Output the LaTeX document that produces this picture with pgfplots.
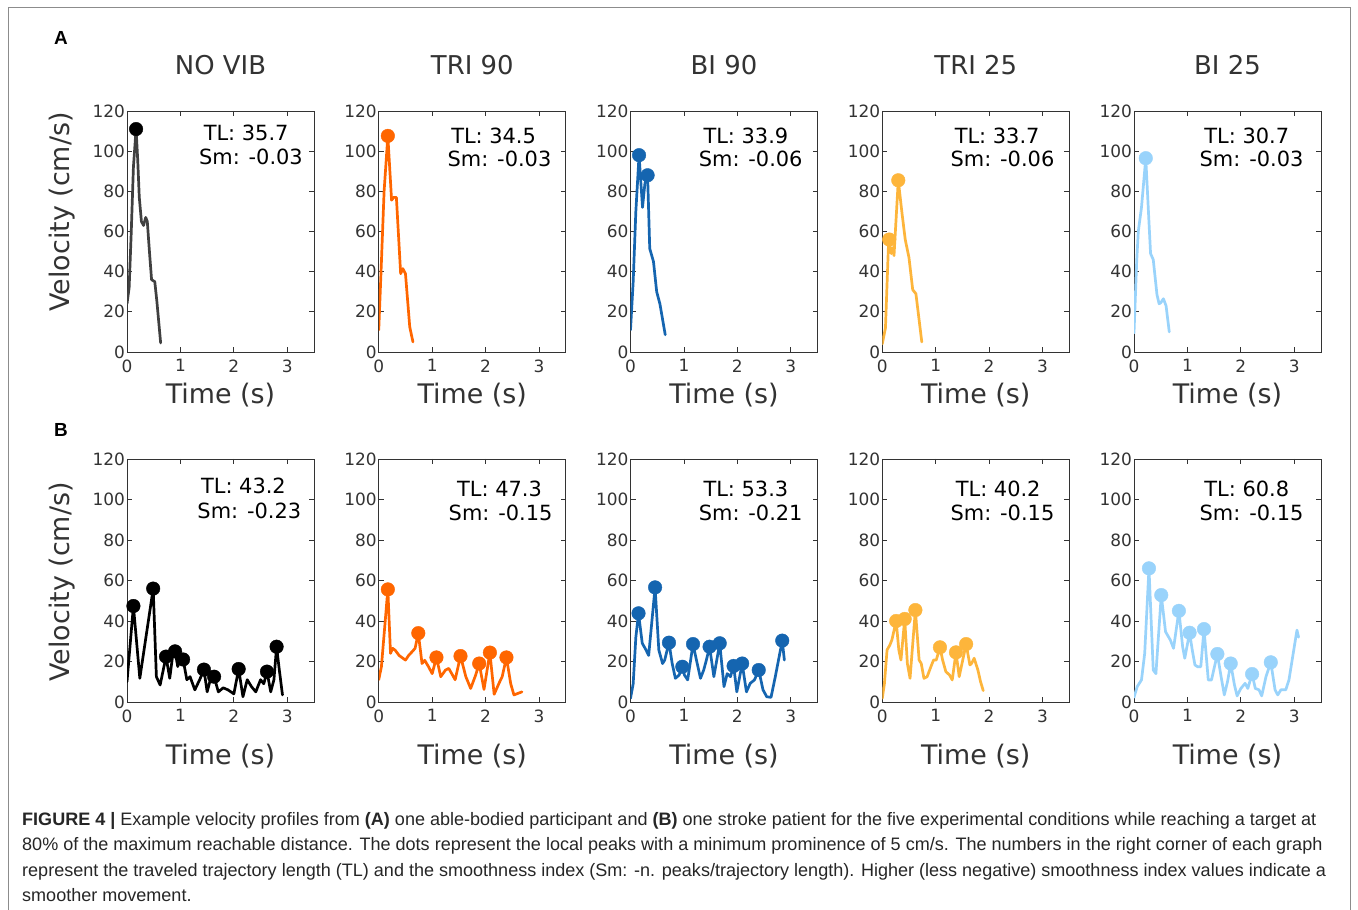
\documentclass[border=0pt]{standalone}
\usepackage{pgfplots}
\pgfplotsset{compat=1.18}
\usepackage{fontspec}
\setmainfont{DejaVu Sans}
\newfontfamily\capfont{Liberation Sans}
\definecolor{cA}{HTML}{404040}
\definecolor{cOr}{HTML}{FF6600}
\definecolor{cBl}{HTML}{1565B0}
\definecolor{cYe}{HTML}{FDB53B}
\definecolor{cLb}{HTML}{99D3FB}
\definecolor{axgray}{HTML}{333333}
\pgfplotsset{
 panel/.style={scale only axis, width=187bp, anchor=south west,
  xmin=0, xmax=3.5, ymin=0, ymax=120,
  xtick={0,1,2,3}, ytick={0,20,40,60,80,100,120},
  tick align=inside, major tick length=5bp,
  axis line style={axgray, line width=0.8bp},
  every tick/.style={axgray, line width=0.8bp},
  ticklabel style={font=\fontsize{17}{17}\selectfont, text=axgray},
  xticklabel style={yshift=-4bp},
  yticklabel style={xshift=1.5bp},
  /pgf/number format/assume math mode=true,
  xlabel={Time (s)},
  xlabel style={font=\fontsize{27}{27}\selectfont, text=axgray, anchor=center},
  title style={font=\fontsize{26}{26}\selectfont, text=axgray, anchor=center, at={(axis description cs:0.5,1.166)}},
  ylabel style={font=\fontsize{27}{27}\selectfont, text=axgray, anchor=center},
 },
 rowA/.style={height=241bp, xlabel style={at={(axis description cs:0.5,-0.1784)}}},
 rowB/.style={height=243bp, xlabel style={at={(axis description cs:0.5,-0.2222)}}},
 vline/.style={line width=2.7bp, line join=round, line cap=round, mark=none},
 peaks/.style={only marks, mark=*, mark size=6.8bp},
}
\tikzset{annot/.style={font=\fontsize{21}{21}\selectfont, text=black, anchor=center, inner sep=0pt}}
\newcommand{\ann}[6]{\node[annot] at (axis cs:#3,#5) {#1}; \node[annot] at (axis cs:#4,#6) {#2};}
\begin{document}
\begin{tikzpicture}
\path[use as bounding box, fill=white] (0bp,0bp) rectangle (1358bp,910bp);
\draw[black!45, line width=1bp] (8bp,0bp) -- (8bp,902bp) -- (1350bp,902bp) -- (1350bp,0bp);
\node[font=\capfont\bfseries\fontsize{19}{19}\selectfont] at (61bp,872bp) {A};
\node[font=\capfont\bfseries\fontsize{19}{19}\selectfont] at (61bp,480bp) {B};

% ---------------- Row A ----------------
\begin{axis}[panel, rowA, at={(127bp,558bp)}, title={NO VIB}, ylabel={Velocity (cm/s)},
  ylabel style={at={(axis description cs:-0.3476,0.581)}}]
\addplot[vline, cA] coordinates {(0,24) (0.04,32) (0.08,60) (0.12,92) (0.17,111) (0.2,96) (0.23,77) (0.27,65) (0.31,63) (0.35,67) (0.38,65) (0.42,50) (0.46,36) (0.52,35) (0.56,25) (0.63,4.5)};
\addplot[peaks, black] coordinates {(0.17,111)};
\ann{TL: 35.7}{Sm: -0.03}{2.23}{2.32}{109}{97.1}
\end{axis}

\begin{axis}[panel, rowA, at={(378.75bp,558bp)}, title={TRI 90}]
\addplot[vline, cOr] coordinates {(0,11) (0.05,45) (0.1,80) (0.17,107.6) (0.24,75.6) (0.28,77) (0.33,77) (0.41,39) (0.45,41.5) (0.5,39) (0.58,12.5) (0.64,5)};
\addplot[peaks, cOr] coordinates {(0.17,107.6)};
\ann{TL: 34.5}{Sm: -0.03}{2.15}{2.26}{107.6}{96.1}
\end{axis}

\begin{axis}[panel, rowA, at={(630.5bp,558bp)}, title={BI 90}]
\addplot[vline, cBl] coordinates {(0,11) (0.05,35) (0.1,70) (0.16,98) (0.225,72) (0.27,84) (0.32,88) (0.36,51.5) (0.43,45) (0.49,30) (0.55,24) (0.65,8.6)};
\addplot[peaks, cBl] coordinates {(0.16,98) (0.32,88)};
\ann{TL: 33.9}{Sm: -0.06}{2.16}{2.25}{107.6}{96.1}
\end{axis}

\begin{axis}[panel, rowA, at={(882.25bp,558bp)}, title={TRI 25}]
\addplot[vline, cYe] coordinates {(0,4) (0.06,12) (0.12,56) (0.17,49) (0.2,52) (0.22,48) (0.30,85.5) (0.37,69) (0.43,56) (0.5,47) (0.57,31) (0.63,29) (0.74,5)};
\addplot[peaks, cYe] coordinates {(0.13,56) (0.30,85.5)};
\ann{TL: 33.7}{Sm: -0.06}{2.15}{2.25}{107.6}{96.1}
\end{axis}

\begin{axis}[panel, rowA, at={(1134bp,558bp)}, title={BI 25}]
\addplot[vline, cLb] coordinates {(0,9.5) (0.05,45) (0.08,60) (0.14,72) (0.22,96.5) (0.27,70) (0.31,49) (0.36,46) (0.43,28.5) (0.47,24) (0.5,24.5) (0.55,26.5) (0.6,23) (0.66,10)};
\addplot[peaks, cLb] coordinates {(0.22,96.5)};
\ann{TL: 30.7}{Sm: -0.03}{2.11}{2.2}{107.6}{96.1}
\end{axis}

% ---------------- Row B ----------------
\begin{axis}[panel, rowB, at={(127bp,208bp)}, ylabel={Velocity (cm/s)},
  ylabel style={at={(axis description cs:-0.3476,0.494)}}]
\addplot[vline, black] coordinates {(0,10) (0.12,47.4) (0.24,11.7) (0.49,56) (0.55,12.5) (0.62,8.4) (0.68,16) (0.73,22.4) (0.8,11.7) (0.85,22) (0.9,25) (0.95,17.5) (0.99,21.5) (1.05,21) (1.12,11) (1.18,12.5) (1.27,6) (1.36,11) (1.44,16) (1.5,5) (1.56,11) (1.63,12.5) (1.71,5) (1.8,7) (1.89,6) (2.0,4) (2.09,16.3) (2.17,2.6) (2.25,11) (2.33,7.6) (2.41,5) (2.5,11) (2.56,9) (2.62,15) (2.69,5) (2.75,11) (2.8,27.3) (2.85,16) (2.91,3.5)};
\addplot[peaks, black] coordinates {(0.12,47.4) (0.49,56) (0.73,22.4) (0.9,25) (1.05,21) (1.44,16) (1.63,12.5) (2.09,16.3) (2.62,15) (2.8,27.3)};
\ann{TL: 43.2}{Sm: -0.23}{2.18}{2.29}{106.7}{94.5}
\end{axis}

\begin{axis}[panel, rowB, at={(378.75bp,208bp)}]
\addplot[vline, cOr] coordinates {(0,11) (0.05,17.5) (0.17,55.6) (0.22,24) (0.26,26.5) (0.31,25.5) (0.38,23) (0.5,20.7) (0.56,23) (0.63,25) (0.68,26.5) (0.74,34) (0.81,19) (0.86,20.6) (0.93,17.5) (1.0,14) (1.08,22) (1.16,12.5) (1.25,15.8) (1.31,16.6) (1.43,11) (1.53,22.7) (1.63,12.5) (1.72,6.7) (1.81,13) (1.88,19) (1.97,6.2) (2.08,24.4) (2.16,3.8) (2.25,9.2) (2.31,12.5) (2.39,22) (2.47,9) (2.53,3.5) (2.61,4.3) (2.68,5)};
\addplot[peaks, cOr] coordinates {(0.17,55.6) (0.74,34) (1.08,22) (1.53,22.7) (1.88,19) (2.08,24.4) (2.39,22)};
\ann{TL: 47.3}{Sm: -0.15}{2.26}{2.28}{105.2}{93.3}
\end{axis}

\begin{axis}[panel, rowB, at={(630.5bp,208bp)}]
\addplot[vline, cBl] coordinates {(0,1.8) (0.05,9) (0.1,32) (0.15,43.8) (0.22,29) (0.29,25.7) (0.34,23) (0.46,56.6) (0.53,25.7) (0.6,19) (0.64,20.7) (0.72,29.3) (0.78,19) (0.84,11.7) (0.91,13.3) (0.97,17.4) (1.01,13.3) (1.07,10.9) (1.17,28.6) (1.24,20) (1.31,11.7) (1.37,15.8) (1.42,20.7) (1.48,27.3) (1.56,12.5) (1.67,29) (1.75,7.6) (1.81,14) (1.87,12.5) (1.93,17.8) (1.99,5) (2.09,19) (2.17,5) (2.24,9.2) (2.32,10.9) (2.4,15.8) (2.48,6) (2.55,2.6) (2.63,2.3) (2.71,12.5) (2.84,30.3) (2.88,20.7)};
\addplot[peaks, cBl] coordinates {(0.15,43.8) (0.46,56.6) (0.72,29.3) (0.97,17.4) (1.17,28.6) (1.48,27.3) (1.67,29) (1.93,17.8) (2.09,19) (2.4,15.8) (2.84,30.3)};
\ann{TL: 53.3}{Sm: -0.21}{2.16}{2.25}{105.2}{93.3}
\end{axis}

\begin{axis}[panel, rowB, at={(882.25bp,208bp)}]
\addplot[vline, cYe] coordinates {(0,1.8) (0.04,9) (0.09,25.7) (0.14,28) (0.18,30.6) (0.26,40) (0.31,25.7) (0.35,20.7) (0.42,41) (0.47,19) (0.52,11.7) (0.62,45.4) (0.69,20.7) (0.73,19) (0.78,11.7) (0.84,12.5) (0.91,17.4) (0.96,20.7) (1.01,20.7) (1.08,27) (1.13,20.7) (1.19,15) (1.26,13.3) (1.31,10.9) (1.38,24.5) (1.44,12.5) (1.57,28.6) (1.64,18.3) (1.67,19) (1.72,21.6) (1.79,15.8) (1.84,10) (1.89,5.6)};
\addplot[peaks, cYe] coordinates {(0.26,40) (0.42,41) (0.62,45.4) (1.08,27) (1.38,24.5) (1.57,28.6)};
\ann{TL: 40.2}{Sm: -0.15}{2.17}{2.25}{105.2}{93.3}
\end{axis}

\begin{axis}[panel, rowB, at={(1134bp,208bp)}]
\addplot[vline, cLb] coordinates {(0,2.3) (0.06,7.6) (0.14,10.9) (0.2,24) (0.28,66) (0.36,15.8) (0.41,14) (0.51,52.8) (0.59,34.7) (0.68,30.6) (0.74,26.5) (0.84,45) (0.91,27.3) (0.95,21.6) (1.04,34.2) (1.09,25.7) (1.14,18.3) (1.19,17.4) (1.25,17.4) (1.31,36) (1.39,10.9) (1.45,10.9) (1.56,23.7) (1.63,12.5) (1.69,3.5) (1.75,10) (1.81,19) (1.88,8.4) (1.93,3) (2.0,6.7) (2.08,9.2) (2.13,6.7) (2.21,13.8) (2.27,6.7) (2.34,6) (2.39,3) (2.47,12.5) (2.56,19.6) (2.64,6) (2.69,3.5) (2.75,6) (2.84,6) (2.9,10.9) (2.97,22.4) (3.05,35.5) (3.08,32)};
\addplot[peaks, cLb] coordinates {(0.28,66) (0.51,52.8) (0.84,45) (1.04,34.2) (1.31,36) (1.56,23.7) (1.81,19) (2.21,13.8) (2.56,19.6)};
\ann{TL: 60.8}{Sm: -0.15}{2.11}{2.2}{105.2}{93.3}
\end{axis}

% ---------------- Caption ----------------
\begin{scope}[every node/.style={anchor=base west, inner sep=0pt, font=\capfont\fontsize{18.1}{18.1}\selectfont, text=black!85}]
\node at (22bp,84bp) {\textbf{FIGURE 4 |} Example velocity profiles from \textbf{(A)} one able-bodied participant and \textbf{(B)} one stroke patient for the five experimental conditions while reaching a target at};
\node at (22bp,59bp) {80\% of the maximum reachable distance. The dots represent the local peaks with a minimum prominence of 5 cm/s. The numbers in the right corner of each graph};
\node at (22bp,34bp) {represent the traveled trajectory length (TL) and the smoothness index (Sm: -n. peaks/trajectory length). Higher (less negative) smoothness index values indicate a};
\node at (22bp,9bp) {smoother movement.};
\end{scope}
\end{tikzpicture}
\end{document}
